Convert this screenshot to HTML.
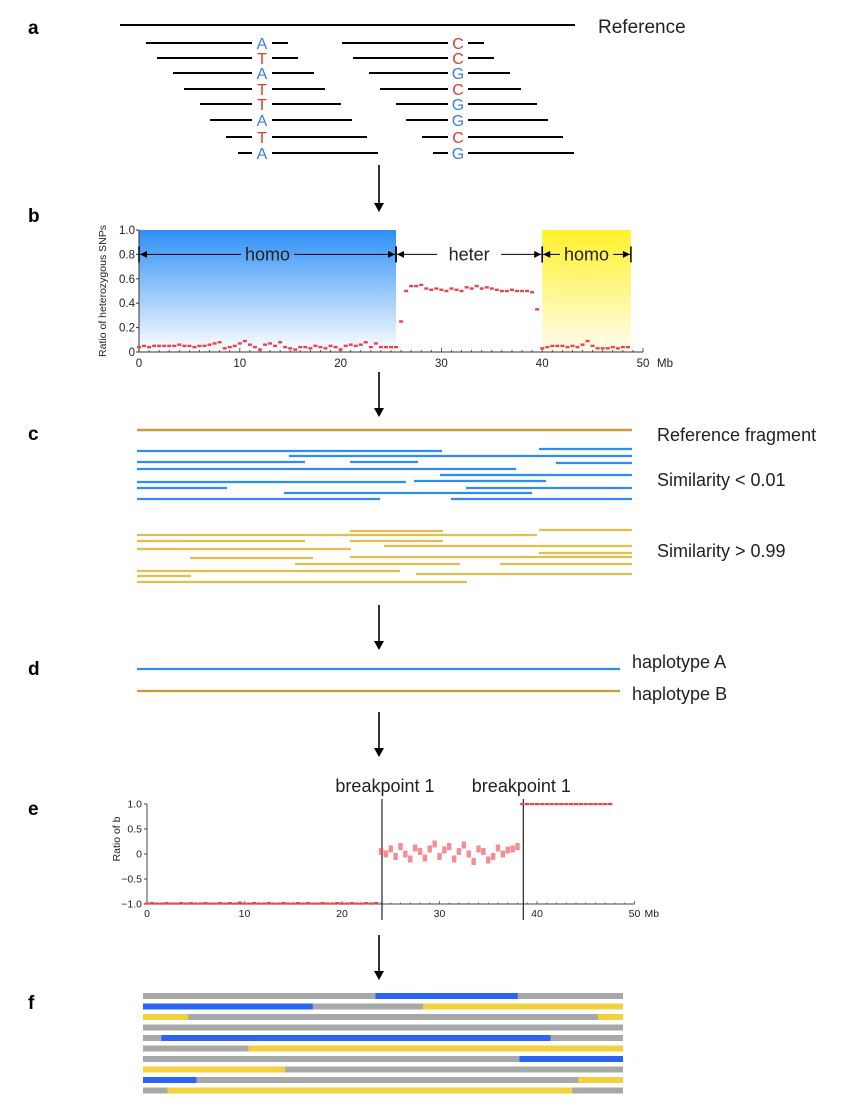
<!DOCTYPE html>
<html><head><meta charset="utf-8"><style>
body{margin:0;background:#fff}
svg{display:block;font-family:"Liberation Sans",sans-serif}
</style></head><body>
<svg id="fig" width="860" height="1120" viewBox="0 0 860 1120">
<defs>
<linearGradient id="gBlue" x1="0" y1="0" x2="0" y2="1"><stop offset="0" stop-color="#2d8ff5"/><stop offset="1" stop-color="#ffffff"/></linearGradient>
<linearGradient id="gYel" x1="0" y1="0" x2="0" y2="1"><stop offset="0" stop-color="#fff12a"/><stop offset="1" stop-color="#fffdf0"/></linearGradient>
</defs>
<g font-weight="bold" font-size="19" fill="#000">
<text x="28" y="34">a</text>
<text x="28" y="222">b</text>
<text x="28" y="440">c</text>
<text x="28" y="675">d</text>
<text x="28" y="815">e</text>
<text x="28" y="1009">f</text>
</g>
<g id="pa"></g>
<g id="arrows"></g>
<g id="pb"></g>
<g id="pc"></g>
<g id="pd"></g>
<g id="pe"></g>
<g id="pf"></g>
</svg>
<script>
// ---- panel b data (0.5 Mb steps from 0) ----
const bRatio = [0.04,0.05,0.04,0.05,0.05,0.05,0.05,0.05,0.06,0.05,0.05,0.04,0.05,0.05,0.06,0.07,0.08,0.03,0.04,0.05,0.07,0.09,0.06,0.04,0.02,0.06,0.07,0.05,0.08,0.04,0.03,0.02,0.04,0.04,0.03,0.05,0.04,0.03,0.05,0.04,0.02,0.05,0.06,0.05,0.06,0.08,0.04,0.07,0.04,0.04,0.04,
0.04,0.25,0.50,0.54,0.54,0.55,0.52,0.51,0.52,0.51,0.50,0.52,0.51,0.50,0.53,0.52,0.54,0.52,0.53,0.52,0.51,0.50,0.50,0.51,0.50,0.50,0.50,0.49,0.35,0.03,
0.04,0.05,0.05,0.05,0.04,0.05,0.04,0.06,0.09,0.05,0.03,0.03,0.03,0.04,0.03,0.04,0.04];
const bYTicks = [0,0.2,0.4,0.6,0.8,1.0];
const bYTickLabels = ["0","0.2","0.4","0.6","0.8","1.0"];
const bXTicks = [0,10,20,30,40,50];
const bRegions = [{from:0,to:25.5,label:"homo"},{from:25.5,to:40,label:"heter"},{from:40,to:48.8,label:"homo"}];
// ---- panel e data (0.5 Mb steps from 0) ----
const eRatio = [-0.99,-0.98,-0.99,-0.99,-0.98,-0.99,-0.99,-0.98,-0.99,-0.98,-0.99,-0.99,-0.98,-0.99,-0.99,-0.98,-0.99,-0.98,-0.99,-0.97,-0.99,-0.99,-0.98,-0.99,-0.99,-0.98,-0.99,-0.99,-0.98,-0.99,-0.99,-0.98,-0.99,-0.98,-0.99,-0.99,-0.98,-0.99,-0.99,-0.98,-0.99,-0.99,-0.98,-0.99,-0.99,-0.98,-0.99,-0.98,
0.05,0.0,0.1,-0.05,0.15,0.0,-0.1,0.12,0.05,-0.08,0.1,0.2,-0.05,0.08,0.15,-0.1,0.05,0.18,0.0,-0.15,0.1,0.05,-0.12,-0.05,0.12,0.0,0.08,0.1,0.15,
1.0,1.0,1.0,1.0,1.0,1.0,1.0,1.0,1.0,1.0,1.0,1.0,1.0,1.0,1.0,1.0,1.0,1.0,1.0];
const eYTicks = [-1.0,-0.5,0,0.5,1.0];
const eYTickLabels = ["\u22121.0","\u22120.5","0","0.5","1.0"];
const eXTicks = [0,10,20,30,40,50];
const eBreaks = [24.1,38.6];
// ---- panel f data: segments [start fraction, end fraction, type] ----
const fRows = [
 [[0,0.484,"g"],[0.484,0.781,"b"],[0.781,1,"g"]],
 [[0,0.354,"b"],[0.354,0.584,"g"],[0.584,1,"y"]],
 [[0,0.094,"y"],[0.094,0.948,"g"],[0.948,1,"y"]],
 [[0,1,"g"]],
 [[0,0.038,"g"],[0.038,0.849,"b"],[0.849,1,"g"]],
 [[0,0.22,"g"],[0.22,1,"y"]],
 [[0,0.784,"g"],[0.784,1,"b"]],
 [[0,0.296,"y"],[0.296,1,"g"]],
 [[0,0.112,"b"],[0.112,0.907,"g"],[0.907,1,"y"]],
 [[0,0.051,"g"],[0.051,0.894,"y"],[0.894,1,"g"]]
];

const NS="http://www.w3.org/2000/svg";
function mk(parent,tag,attrs,txt){const e=document.createElementNS(NS,tag);for(const k in attrs)e.setAttribute(k,attrs[k]);if(txt!==undefined)e.textContent=txt;parent.appendChild(e);return e;}

// ---- panel a ----
const pa=document.getElementById('pa');
let el=mk(pa,'line',{x1:120,y1:25,x2:575,y2:25,stroke:'#000','stroke-width':2});


el=mk(pa,'text',{x:598,y:33,'font-size':19,fill:'#222'},'Reference');


const aRowsY=[43,58,73,89,104,120,137,153];
const aLeft=[[146,288,"A"],[157,298,"T"],[173,314,"A"],[184,325,"T"],[200,341,"T"],[210,352,"A"],[226,367,"T"],[238,378,"A"]];
const aRight=[[342,484,"C"],[353,494,"C"],[369,510,"G"],[380,521,"C"],[396,537,"G"],[406,548,"G"],[422,563,"C"],[433,574,"G"]];
const col={A:'#3b7fd6',G:'#3b7fd6',T:'#d8402a',C:'#d8402a'};
function aRead(s,e,cx,L,y){
 mk(pa,'line',{x1:s,y1:y,x2:cx-10,y2:y,stroke:'#000','stroke-width':2});
 mk(pa,'line',{x1:cx+10,y1:y,x2:e,y2:y,stroke:'#000','stroke-width':2});
 el=mk(pa,'text',{x:cx,y:y+6,'font-size':16,'text-anchor':'middle',fill:col[L]},L);
 
 
}
aRowsY.forEach((y,i)=>{aRead(aLeft[i][0],aLeft[i][1],262,aLeft[i][2],y);aRead(aRight[i][0],aRight[i][1],458,aRight[i][2],y);});

// ---- arrows ----
const ar=document.getElementById('arrows');
[[165,212],[372,417],[605,650],[712,757],[935,980]].forEach(([a,b])=>{
 const g=mk(ar,'g',{});
 
 
 mk(g,'line',{x1:379,y1:a,x2:379,y2:b-8,stroke:'#000','stroke-width':1.6});
 mk(g,'path',{d:`M374 ${b-9} L384 ${b-9} L379 ${b} Z`,fill:'#000'});
});

// ---- panel b ----
const pb=document.getElementById('pb');
const bx=v=>139+v*(643-139)/50, by=v=>352-v*(352-230);
el=mk(pb,'rect',{x:bx(0),y:by(1),width:bx(25.5)-bx(0),height:by(0)-by(1),fill:'url(#gBlue)'});


el=mk(pb,'rect',{x:bx(40),y:by(1),width:bx(48.8)-bx(40),height:by(0)-by(1),fill:'url(#gYel)'});


mk(pb,'line',{x1:bx(0),y1:by(0),x2:bx(50),y2:by(0),stroke:'#333','stroke-width':1});
mk(pb,'line',{x1:bx(0),y1:by(0),x2:bx(0),y2:by(1),stroke:'#333','stroke-width':1});
for(let m=0;m<=50;m++){mk(pb,'line',{x1:bx(m),y1:by(0),x2:bx(m),y2:by(0)-(m%10?2:4),stroke:'#333','stroke-width':0.8});}
bYTicks.forEach((t,i)=>{mk(pb,'line',{x1:bx(0)-3,y1:by(t),x2:bx(0),y2:by(t),stroke:'#333'});
 el=mk(pb,'text',{x:bx(0)-4,y:by(t)+4,'font-size':11.5,'text-anchor':'end',fill:'#222'},bYTickLabels[i]);
 
 });
bXTicks.forEach(t=>{el=mk(pb,'text',{x:bx(t),y:by(0)+15,'font-size':11.5,'text-anchor':'middle',fill:'#222'},String(t));
 
 });
el=mk(pb,'text',{x:bx(50)+14,y:by(0)+15,'font-size':11.5,fill:'#222'},'Mb');


el=mk(pb,'text',{x:0,y:0,'font-size':10.5,'text-anchor':'middle',fill:'#222',transform:`translate(106,${(by(0)+by(1))/2}) rotate(-90)`},'Ratio of heterozygous SNPs');


bRatio.forEach((v,i)=>{el=mk(pb,'rect',{x:bx(i*0.5)-2,y:by(v)-1.2,width:4,height:2.4,fill:'#f0414a'});
 
 });
const ay=by(0.8);
bRegions.forEach(r=>{
 const x1=bx(r.from),x2=bx(r.to),cx=(x1+x2)/2,hw=r.label.length*5.4+5;
 const g=mk(pb,'g',{});
 
 
 mk(g,'line',{x1:x1+1,y1:ay,x2:cx-hw,y2:ay,stroke:'#000','stroke-width':1});
 mk(g,'line',{x1:cx+hw,y1:ay,x2:x2-1,y2:ay,stroke:'#000','stroke-width':1});
 mk(g,'path',{d:`M${x1+1} ${ay} l7 -3.5 v7 Z M${x2-1} ${ay} l-7 -3.5 v7 Z`,fill:'#000'});
 mk(g,'line',{x1:x1,y1:ay-8,x2:x1,y2:ay+8,stroke:'#000','stroke-width':1.5});
 mk(g,'line',{x1:x2,y1:ay-8,x2:x2,y2:ay+8,stroke:'#000','stroke-width':1.5});
 mk(g,'text',{x:cx,y:ay+6,'font-size':18,'text-anchor':'middle',fill:'#222'},r.label);
});

// ---- panel c ----
const pc=document.getElementById('pc');
function seg(p,x1,x2,y,c,w,name){el=mk(p,'line',{x1:x1,y1:y,x2:x2,y2:y,stroke:c,'stroke-width':w});
 
 }
seg(pc,137,632,430,'#c9993a',2.6,'reference-fragment');
const cBlue=[[137,442,451],[539,632,449],[289,632,456],[137,305,462],[350,418,462],[556,632,463],[137,516,469],[440,632,475],[137,406,482],[414,546,481],[137,227,488],[466,632,488],[284,532,493],[137,380,499],[451,632,499]];
const cGold=[[539,632,530],[350,443,531],[137,537,535],[137,305,541],[350,443,541],[384,632,546],[137,351,549],[539,632,553],[350,632,557],[190,313,558],[295,460,564],[500,632,564],[137,400,571],[416,632,574],[137,191,576],[137,467,582]];
cBlue.forEach(s=>seg(pc,s[0],s[1],s[2],'#2f8ded',2.2,'dissimilar-read'));
cGold.forEach(s=>seg(pc,s[0],s[1],s[2],'#e0bf4e',2.2,'similar-read'));
[['Reference fragment',441,'reference-fragment-label'],['Similarity < 0.01',486,'low-similarity-label'],['Similarity > 0.99',557,'high-similarity-label']].forEach(t=>{
 el=mk(pc,'text',{x:657,y:t[1],'font-size':18,fill:'#222'},t[0]);
 
 });

// ---- panel d ----
const pd=document.getElementById('pd');
seg(pd,137,620,669,'#2f8ded',2.2,'haplotype-a-line');
seg(pd,137,620,691,'#c9993a',2.2,'haplotype-b-line');
el=mk(pd,'text',{x:632,y:668,'font-size':18,fill:'#222'},'haplotype A');


el=mk(pd,'text',{x:632,y:700,'font-size':18,fill:'#222'},'haplotype B');



// ---- panel e ----
const pe=document.getElementById('pe');
const ex=v=>147+v*9.75, ey=v=>854-v*50;
mk(pe,'line',{x1:ex(0),y1:ey(-1),x2:ex(50),y2:ey(-1),stroke:'#444','stroke-width':1});
mk(pe,'line',{x1:ex(0),y1:ey(-1),x2:ex(0),y2:ey(1),stroke:'#444','stroke-width':1});
for(let m=0;m<=50;m++){mk(pe,'line',{x1:ex(m),y1:ey(-1),x2:ex(m),y2:ey(-1)-(m%10?1.5:3),stroke:'#444','stroke-width':0.7});}
eYTicks.forEach((t,i)=>{mk(pe,'line',{x1:ex(0)-3,y1:ey(t),x2:ex(0),y2:ey(t),stroke:'#444'});
 el=mk(pe,'text',{x:ex(0)-5,y:ey(t)+3.5,'font-size':10.5,'text-anchor':'end',fill:'#222'},eYTickLabels[i]);
 
 });
eXTicks.forEach(t=>{el=mk(pe,'text',{x:ex(t),y:ey(-1)+13,'font-size':10.5,'text-anchor':'middle',fill:'#222'},String(t));
 
 });
el=mk(pe,'text',{x:ex(50)+10,y:ey(-1)+13,'font-size':10.5,fill:'#222'},'Mb');


el=mk(pe,'text',{x:0,y:0,'font-size':10.5,'text-anchor':'middle',fill:'#222',transform:`translate(120,${ey(0.3)}) rotate(-90)`},'Ratio of b');


const labelShift=[3,-2];
eBreaks.forEach((b,i)=>{el=mk(pe,'line',{x1:ex(b),y1:799,x2:ex(b),y2:920,stroke:'#333','stroke-width':1.3});
 
 
 el=mk(pe,'text',{x:ex(b)+labelShift[i],y:792,'font-size':18,'text-anchor':'middle',fill:'#222'},'breakpoint 1');
 
 });
eRatio.forEach((v,i)=>{const mid=v>-0.9&&v<0.9;el=mk(pe,'rect',{x:ex(i*0.5)-2.2,y:ey(v)-(mid?3.5:1),width:4.4,height:(mid?7:2.2),fill:'#f0414a','fill-opacity':(mid?0.6:1)});
 
 });

// ---- panel f ----
const pf=document.getElementById('pf');
const fColors={g:'#a6a9a7',b:'#2b63f4',y:'#f3d03d'};
const fx0=143,fx1=623,fy0=993,fdy=10.5;
fRows.forEach((row,r)=>{row.forEach(s=>{
 el=mk(pf,'rect',{x:fx0+s[0]*(fx1-fx0),y:fy0+r*fdy,width:(s[1]-s[0])*(fx1-fx0),height:6,fill:fColors[s[2]]});
 
 });});
</script>
</body></html>
